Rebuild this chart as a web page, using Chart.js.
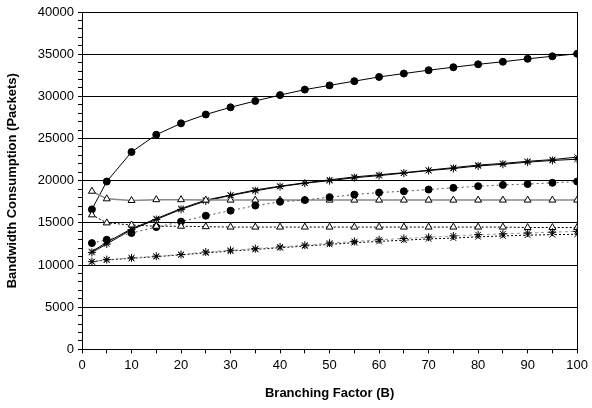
<!DOCTYPE html>
<html>
<head>
<meta charset="utf-8">
<script src="https://cdn.jsdelivr.net/npm/chart.js@4"></script>
<style>
  html, body { margin: 0; padding: 0; background: #fff; }
  #wrap { width: 592px; height: 408px; }
</style>
</head>
<body>
<div id="wrap"><canvas id="bwChart" width="592" height="408"></canvas></div>
<script>
// branching factor values (x)
const branching = [2, 5, 10, 15, 20, 25, 30, 35, 40, 45, 50, 55, 60, 65, 70, 75, 80, 85, 90, 95, 100];

// solid series
const solidCircle = [16600, 19900, 23400, 25450, 26800, 27850, 28700, 29450, 30150, 30800, 31300, 31800, 32300, 32700, 33100, 33450, 33800, 34100, 34450, 34750, 35050];
const solidTriangle = [18750, 17850, 17650, 17750, 17750, 17700, 17700, 17700, 17700, 17700, 17700, 17700, 17700, 17700, 17700, 17700, 17700, 17700, 17700, 17700, 17700];
const solidCrossA = [11600, 12700, 14300, 15500, 16700, 17700, 18300, 18900, 19350, 19750, 20100, 20450, 20700, 20950, 21250, 21550, 21850, 22050, 22300, 22500, 22800];
const solidCrossB = [11500, 12500, 14200, 15400, 16600, 17600, 18250, 18800, 19300, 19700, 20000, 20350, 20600, 20900, 21200, 21450, 21750, 21950, 22200, 22400, 22550];

// dotted series
const dotCircle = [12600, 13000, 13800, 14500, 15150, 15850, 16450, 17050, 17500, 17700, 18050, 18350, 18600, 18750, 18950, 19150, 19350, 19500, 19600, 19750, 19900];
const dotTriangle = [15950, 15000, 14750, 14600, 14600, 14550, 14500, 14500, 14500, 14500, 14500, 14500, 14500, 14500, 14500, 14500, 14500, 14500, 14450, 14450, 14450];
const dotCrossA = [10400, 10600, 10800, 11000, 11200, 11450, 11650, 11850, 12050, 12250, 12450, 12650, 12800, 12950, 13100, 13200, 13350, 13450, 13550, 13600, 13650];
const dotCrossB = [10400, 10650, 10850, 11050, 11250, 11550, 11750, 11950, 12150, 12350, 12600, 12800, 13000, 13150, 13300, 13450, 13600, 13700, 13800, 13900, 14000];

// axis tick labels
const xTickLabels = [0, 10, 20, 30, 40, 50, 60, 70, 80, 90, 100];
const yTickLabels = [0, 5000, 10000, 15000, 20000, 25000, 30000, 35000, 40000];

function pts(ys) {
  return ys.map((y, i) => ({ x: branching[i], y: y }));
}

function series(ys, style) {
  return Object.assign({
    data: pts(ys),
    borderColor: '#000',
    borderWidth: 1,
    backgroundColor: '#000',
    pointBorderColor: '#000',
    pointBorderWidth: 1,
    pointRadius: 3.5,
    tension: 0
  }, style);
}

const FONT = "'Liberation Sans', Arial, sans-serif";

const ctx = document.getElementById('bwChart').getContext('2d');
new Chart(ctx, {
  type: 'line',
  data: {
    datasets: [
      series(dotCrossB, { borderColor: '#999', borderDash: [3, 3], pointStyle: 'star', pointRadius: 4 }),
      series(dotCrossA, { borderDash: [2, 2], pointStyle: 'crossRot', pointRadius: 4 }),
      series(dotTriangle, { borderDash: [2, 2], pointStyle: 'triangle', backgroundColor: '#fff', pointRadius: 4 }),
      series(dotCircle, { borderColor: '#555', borderDash: [2, 3], pointStyle: 'circle' }),
      series(solidTriangle, { borderColor: '#888', borderWidth: 1.5, pointStyle: 'triangle', backgroundColor: '#fff', pointRadius: 4 }),
      series(solidCrossB, { pointStyle: 'star', pointRadius: 4 }),
      series(solidCrossA, { pointStyle: 'crossRot', pointRadius: 4 }),
      series(solidCircle, { pointStyle: 'circle' })
    ]
  },
  options: {
    responsive: false,
    animation: false,
    layout: { padding: { top: 12, right: 13, bottom: 0, left: 0 } },
    plugins: {
      legend: { display: false },
      tooltip: { enabled: false }
    },
    scales: {
      x: {
        type: 'linear',
        min: 0,
        max: 100,
        afterFit: scale => { scale.height = 58.6; },
        ticks: {
          stepSize: 5,
          autoSkip: false,
          maxRotation: 0,
          padding: 4,
          color: '#000',
          font: { family: FONT, size: 13 },
          callback: v => xTickLabels.includes(v) ? String(v) : ''
        },
        grid: {
          drawOnChartArea: true,
          color: c => (c.tick && c.tick.value === 100) ? '#000' : 'rgba(0,0,0,0)',
          tickColor: '#000',
          tickLength: 4
        },
        border: { color: '#000', width: 1 },
        title: {
          display: true,
          text: 'Branching Factor (B)',
          color: '#000',
          font: { family: FONT, size: 13, weight: 'bold' },
          padding: { top: 4, bottom: 7 }
        }
      },
      y: {
        min: 0,
        max: 40000,
        afterFit: scale => { scale.width = 82; },
        ticks: {
          stepSize: 1000,
          autoSkip: false,
          padding: 4,
          color: '#000',
          font: { family: FONT, size: 13 },
          callback: v => yTickLabels.includes(v) ? String(v) : ''
        },
        grid: {
          color: c => (c.tick && c.tick.value % 5000 === 0 && c.tick.value > 0) ? '#000' : 'rgba(0,0,0,0)',
          tickColor: '#000',
          tickLength: 4
        },
        border: { color: '#000', width: 1 },
        title: {
          display: true,
          text: 'Bandwidth Consumption (Packets)',
          color: '#000',
          font: { family: FONT, size: 13, weight: 'bold' },
          padding: { top: 5, bottom: 6 }
        }
      }
    }
  }
});
</script>
</body>
</html>
